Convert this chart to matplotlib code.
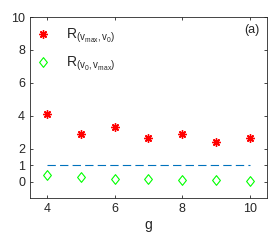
import numpy as np
import matplotlib.pyplot as plt
from matplotlib.path import Path

plt.rcParams['font.family'] = 'Liberation Sans'
plt.rcParams['mathtext.fontset'] = 'custom'
plt.rcParams['mathtext.rm'] = 'Liberation Sans'
plt.rcParams['mathtext.it'] = 'Liberation Sans'

g = [4, 5, 6, 7, 8, 9, 10]
r_max0 = [4.11, 2.88, 3.34, 2.63, 2.90, 2.43, 2.67]
r_0max = [0.37, 0.27, 0.18, 0.15, 0.08, 0.08, 0.06]
ref_level = 1

diamond = Path([(0, 1), (0.8, 0), (0, -1), (-0.8, 0), (0, 1)],
               [Path.MOVETO, Path.LINETO, Path.LINETO, Path.LINETO, Path.CLOSEPOLY])

fig = plt.figure(figsize=(2.77, 2.40), dpi=100)
ax = fig.add_axes([30/277, 1 - 198/240, (267-30)/277, (198-17)/240])

ax.plot(g, r_max0, linestyle='none', marker=(8, 2, 0), color='red',
        markersize=6, markeredgewidth=1.0,
        label=r'R$_{(\mathrm{v}_{\mathrm{max}},\mathrm{v}_0)}$')
ax.plot(g, r_0max, linestyle='none', marker=diamond, color='#00ff00',
        markerfacecolor='none', markersize=7, markeredgewidth=0.8,
        label=r'R$_{(\mathrm{v}_0,\mathrm{v}_{\mathrm{max}})}$')
ax.plot([g[0], g[-1]], [ref_level, ref_level], linestyle=(0, (7.5, 3.8)),
        color=(0, 0.447, 0.741), linewidth=0.8)

ax.set_xlim(3.5, 10.5)
ax.set_ylim(-1, 10)
ax.set_xticks([4, 6, 8, 10])
ax.set_yticks([0, 1, 2, 4, 6, 8, 10])
ax.tick_params(direction='in', top=True, right=True, labelsize=9,
               length=2.5, width=0.6, colors='#262626')
for s in ax.spines.values():
    s.set_linewidth(0.6)
    s.set_color('#262626')
ax.set_xlabel('g', fontsize=10, color='#262626', labelpad=2)
ax.text(0.97, 0.93, '(a)', transform=ax.transAxes, ha='right', va='center',
        fontsize=9, color='#262626')

leg = ax.legend(loc='upper left', bbox_to_anchor=(-0.02, 1.0), frameon=False,
                fontsize=10, handlelength=1.2, handletextpad=1.0,
                labelspacing=0.7, borderaxespad=0.3)
for t in leg.get_texts():
    t.set_color('#262626')

fig.savefig('out.png', dpi=100)
